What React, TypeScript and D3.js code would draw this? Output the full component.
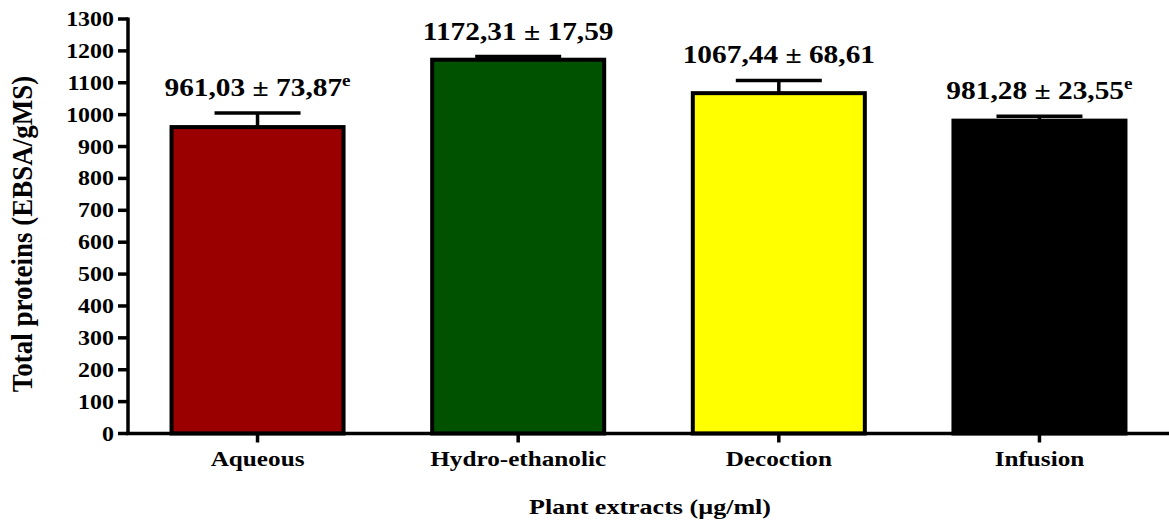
import React from "react";
import * as d3 from "d3";

const categories = ["Aqueous", "Hydro-ethanolic", "Decoction", "Infusion"];
const means = [961.03, 1172.31, 1067.44, 981.28];
const drawnErrors = [44, 10, 40, 14];
const labelTexts = ["961,03 ± 73,87", "1172,31 ± 17,59", "1067,44 ± 68,61", "981,28 ± 23,55"];
const labelSups = ["e", "", "", "e"];
const barColors = ["#9a0000", "#005200", "#ffff00", "#000000"];
const yTicks = d3.range(0, 1301, 100);

const W = 1169;
const H = 522;
const FONT = "Liberation Serif";

function T({ x, y, sx = 1.15, rotate = 0, anchor = "middle", size = 21, children }: any) {
  return (
    <text
      transform={`translate(${x},${y}) scale(${sx},1)${rotate ? ` rotate(${rotate})` : ""}`}
      textAnchor={anchor}
      fontFamily={FONT}
      fontWeight="bold"
      fontSize={size}
      fill="#000"
    >
      {children}
    </text>
  );
}

export default function App() {
  const x = d3.scaleBand().domain(categories).range([128, 1169]).paddingInner(0.34).paddingOuter(0.167);
  const y = d3.scaleLinear().domain([0, 1300]).range([433.5, 19]);
  const bw = x.bandwidth();

  return (
    <svg width={W} height={H} style={{ position: "absolute", left: 0, top: 0, background: "#fff" }}>
      {categories.map((c, i) => (
        <rect
          key={c}
          x={x(c)!}
          y={y(means[i])}
          width={bw}
          height={y(0) - y(means[i])}
          fill={barColors[i]}
          stroke="#000"
          strokeWidth={4}
        />
      ))}
      {categories.map((c, i) => {
        const cx = x(c)! + bw / 2;
        const top = y(means[i] + drawnErrors[i]);
        return (
          <g key={"e" + c} stroke="#000" strokeWidth={3.5}>
            <line x1={cx} x2={cx} y1={y(means[i])} y2={top} />
            <line x1={cx - bw / 4} x2={cx + bw / 4} y1={top} y2={top} />
          </g>
        );
      })}
      {categories.map((c, i) => {
        const cx = x(c)! + bw / 2;
        const top = y(means[i] + drawnErrors[i]);
        return (
          <T key={"l" + c} x={cx} y={top - 17} size={26} sx={1.13}>
            {labelTexts[i]}
            {labelSups[i] ? (
              <tspan fontSize={17} dy={-10}>
                {labelSups[i]}
              </tspan>
            ) : null}
          </T>
        );
      })}
      <line x1={128} x2={128} y1={y(1300) - 1.5} y2={y(0) + 1.5} stroke="#000" strokeWidth={3.5} />
      {yTicks.map((t) => (
        <g key={"t" + t}>
          <line x1={118} x2={128} y1={y(t)} y2={y(t)} stroke="#000" strokeWidth={3.5} />
          <T x={114} y={y(t) + 7} anchor="end" size={21} sx={1.14}>
            {t}
          </T>
        </g>
      ))}
      <line x1={126} x2={1169} y1={y(0)} y2={y(0)} stroke="#000" strokeWidth={3.5} />
      {categories.map((c) => {
        const cx = x(c)! + bw / 2;
        return (
          <g key={"x" + c}>
            <line x1={cx} x2={cx} y1={y(0)} y2={y(0) + 9} stroke="#000" strokeWidth={3.5} />
            <T x={cx} y={466} size={21} sx={1.2}>
              {c}
            </T>
          </g>
        );
      })}
      <T x={650} y={514} size={21} sx={1.24}>
        Plant extracts (µg/ml)
      </T>
      <T x={32} y={234} size={27} sx={1.12} rotate={-90}>
        Total proteins (EBSA/gMS)
      </T>
    </svg>
  );
}
